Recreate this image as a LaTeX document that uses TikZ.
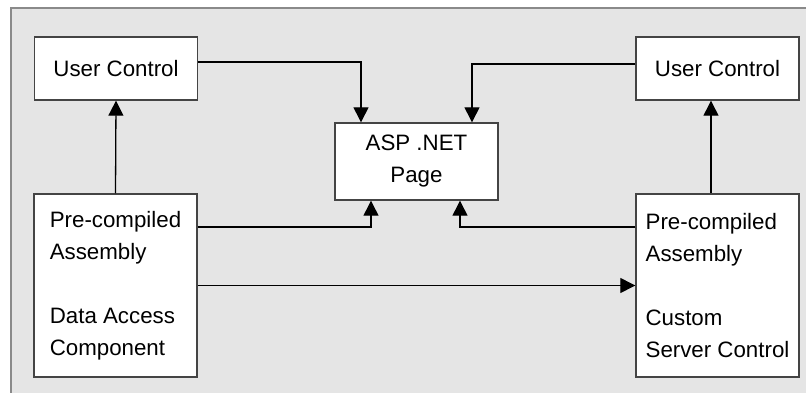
\documentclass[tikz,border=0pt]{standalone}
\usepackage{fontspec}
\setmainfont{Liberation Sans}
\usetikzlibrary{arrows.meta}
\definecolor{bggray}{HTML}{E5E5E5}
\definecolor{framegray}{HTML}{8A8A8A}
\definecolor{boxline}{HTML}{444444}
\tikzset{
  box/.style={draw=boxline, line width=1.4pt, fill=white, minimum width=163pt, inner sep=0pt,
    font=\fontsize{22.3}{32}\selectfont},
  conn/.style={line width=1.3pt, draw=black},
  arr/.style={conn, -{Triangle[length=15pt,width=15pt]}}
}
\begin{document}
\begin{tikzpicture}[x=1pt,y=-1pt]
\useasboundingbox (0,0) rectangle (806,392);
\fill[bggray] (11,8) rectangle (812,398);
\draw[framegray, line width=1.5pt] (11,398) -- (11,8) -- (812,8);

\node[box, minimum height=63pt] (luc) at (116,68.5) {User Control};
\node[box, minimum height=63pt] (ruc) at (717.5,68.5) {User Control};
\node[box, minimum height=77pt, align=center] (asp) at (416.5,161.5) {ASP .NET\\Page};
\node[box, minimum height=183pt, align=left] (lpc) at (115.5,285.5)
  {Pre-compiled\\Assembly\\[32pt]Data Access\\Component};
\node[box, minimum height=183pt, align=left] (rpc) at (717.5,285.5)
  {Pre-compiled\\Assembly\\[32pt]Custom\\Server Control};

\draw[arr] (lpc.north) -- (luc.south);
\draw[arr] ([xshift=-6.5pt]rpc.north) -- ([xshift=-6.5pt]ruc.south);
\draw[arr] ([yshift=6.5pt]luc.east) -| ([xshift=-55.5pt]asp.north);
\draw[arr] ([yshift=4.5pt]ruc.west) -| ([xshift=55.5pt]asp.north);
\draw[arr] ([yshift=58.5pt]lpc.east) -| ([xshift=-45.5pt]asp.south);
\draw[arr] ([yshift=58.5pt]rpc.west) -| ([xshift=43.5pt]asp.south);
\draw[arr] (lpc.east) -- (rpc.west);
\end{tikzpicture}
\end{document}
